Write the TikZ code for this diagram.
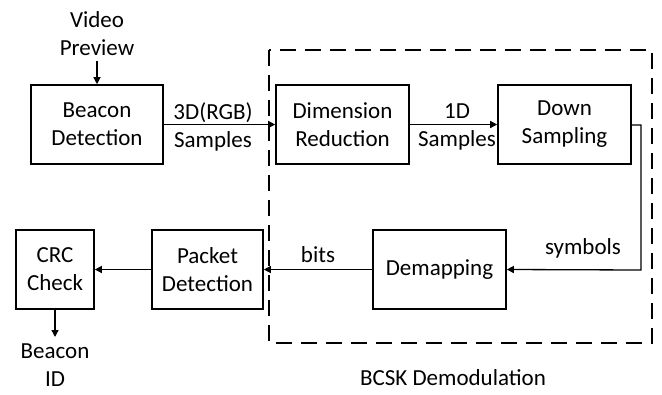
\documentclass[tikz,border=0pt]{standalone}
\usepackage{fontspec}
\setmainfont{Carlito}
\usetikzlibrary{arrows.meta}
\begin{document}
\begin{tikzpicture}[x=1pt,y=-1pt,
  blk/.style={draw,line width=1.6pt,inner sep=0pt},
  txt/.style={align=center,font=\fontsize{23}{28}\selectfont,inner sep=0pt},
  arr/.style={line width=1.3pt,-{Triangle[length=7pt,width=7pt]}},
  dbox/.style={line width=1.8pt,dash pattern=on 16pt off 9pt}]
\useasboundingbox (0,0) rectangle (662,394);
% boxes
\node[blk,minimum width=132pt,minimum height=79pt] (bd) at (97,124.5) {};
\node[txt] at (bd) {Beacon\\Detection};
\node[blk,minimum width=133pt,minimum height=79pt] (dr) at (342.5,124.5) {};
\node[txt] at (dr) {Dimension\\Reduction};
\node[blk,minimum width=133pt,minimum height=79pt] (ds) at (564.5,124.5) {};
\node[txt] at (ds) {Down\\Sampling};
\node[blk,minimum width=78pt,minimum height=79pt] (crc) at (55,269.5) {};
\node[txt] at (crc) {CRC\\Check};
\node[blk,minimum width=111pt,minimum height=79pt] (pd) at (207.5,269.5) {};
\node[txt] at (pd) {Packet\\Detection};
\node[blk,minimum width=133pt,minimum height=79pt] (dm) at (439.5,269.5) {};
\node[txt] at (dm) {Demapping};
% dashed region
\draw[dbox] (269,50) rectangle (652,343);
\node[txt] (bcsk) at (453,378) {BCSK Demodulation};
% external texts
\node[txt] (vp) at (97,34) {Video\\Preview};
\node[txt] (bid) at (55,365) {Beacon\\ID};
\coordinate (vpe) at (97,61);
\coordinate (bide) at (55,337);
\coordinate (turn1) at (641,125);
\coordinate (turn2) at (641,270);
% connectors
\draw[arr] (vpe) -- (bd.north);
\draw[arr] (bd.east) -- (dr.west);
\draw[arr] (dr.east) -- (ds.west);
\draw[arr] (ds.east |- turn1) -- (turn1) -- (turn2) -- (dm.east);
\draw[arr] (dm.west) -- (pd.east);
\draw[arr] (pd.west) -- (crc.east);
\draw[arr] (crc.south) -- (bide);
% labels
\node[txt] (l1) at (213,126.5) {3D(RGB)\\Samples};
\node[txt] (l2) at (457,126.5) {1D\\Samples};
\node[txt] (l3) at (583,248) {symbols};
\node[txt] (l4) at (318,255) {bits};
\end{tikzpicture}
\end{document}
